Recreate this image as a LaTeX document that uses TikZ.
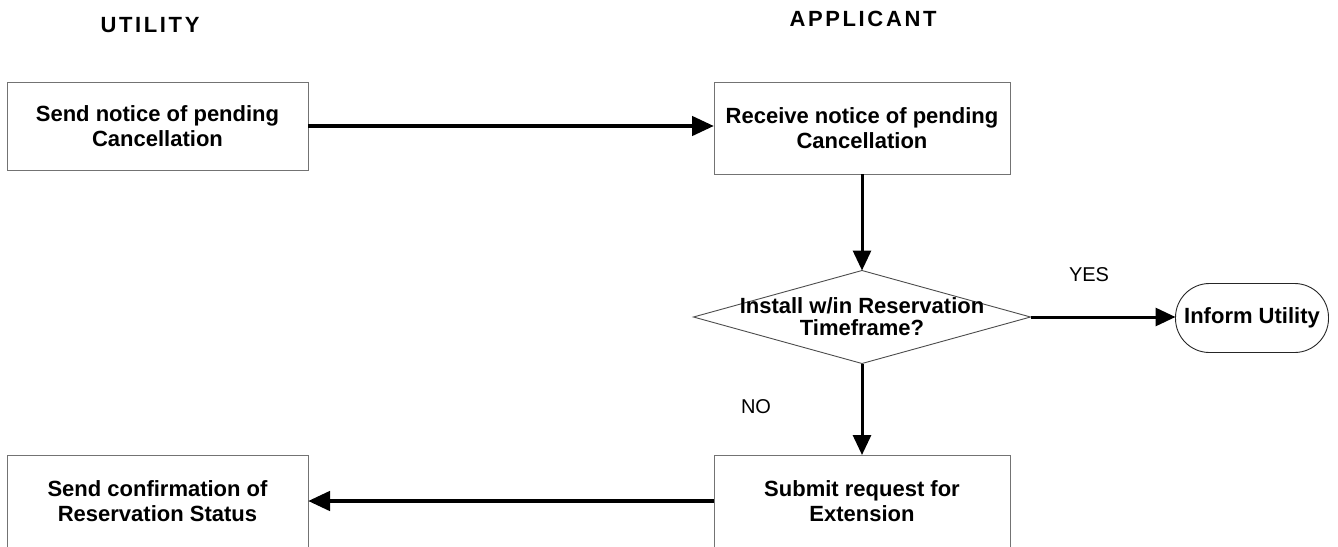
\documentclass[tikz,border=0pt]{standalone}
\usepackage{fontspec}
\setmainfont{Liberation Sans}
\usetikzlibrary{arrows.meta,shapes.geometric}
\begin{document}
\begin{tikzpicture}[x=1pt,y=-1pt,
  every node/.style={inner sep=0pt,outer sep=0pt},
  boxtxt/.style={font=\fontsize{22}{25}\selectfont\bfseries, align=center},
  procbox/.style={rectangle, draw=black!55, line width=0.9pt, boxtxt},
  lanetitle/.style={font=\fontsize{22}{26}\selectfont\bfseries\addfontfeature{LetterSpace=12}},
  answer/.style={font=\fontsize{20}{24}\selectfont},
  flow/.style={line width=3pt, -{Triangle[length=20pt,width=18pt]}},
  flowthick/.style={line width=4.5pt, -{Triangle[length=22pt,width=19pt]}},
]
\clip (0,0) rectangle (1338,546);

% lane titles
\node[lanetitle] (utitle) at (150,25) {UTILITY};
\node[lanetitle] (atitle) at (863,19) {APPLICANT};

% process boxes
\node[procbox, minimum width=301pt, minimum height=88pt] (b1) at (157.5,126)
  {Send notice of pending\\Cancellation};
\node[procbox, minimum width=296pt, minimum height=92pt] (b2) at (862,128)
  {Receive notice of pending\\Cancellation};
\node[procbox, minimum width=296pt, minimum height=92pt] (b3) at (862,501)
  {Submit request for\\Extension};
\node[procbox, minimum width=301pt, minimum height=92pt] (b4) at (157.5,501)
  {Send confirmation of\\Reservation Status};

% decision
\node[diamond, draw=black!70, line width=0.9pt, minimum width=337pt, minimum height=93pt] (d) at (862,317) {};
\node[align=center, font=\fontsize{22}{22}\selectfont\bfseries] (dq) at (d.center)
  {Install w/in Reservation\\Timeframe?};

% terminator
\node[draw=black!85, line width=0.9pt, rounded corners=34pt, minimum width=153pt, minimum height=69pt, boxtxt] (t) at (1252,318)
  {Inform Utility};

% answers
\node[answer] (yes) at (1089,275) {YES};
\node[answer] (no) at (756,407) {NO};

% connectors
\draw[flowthick] (b1.east) -- (b2.west |- b1.east);
\draw[flow] (b2.south) -- (d.north);
\draw[flow] (d.east) -- (t.west |- d.east);
\draw[flow] (d.south) -- (b3.north);
\draw[flowthick] (b3.west) -- (b4.east);
\end{tikzpicture}
\end{document}
